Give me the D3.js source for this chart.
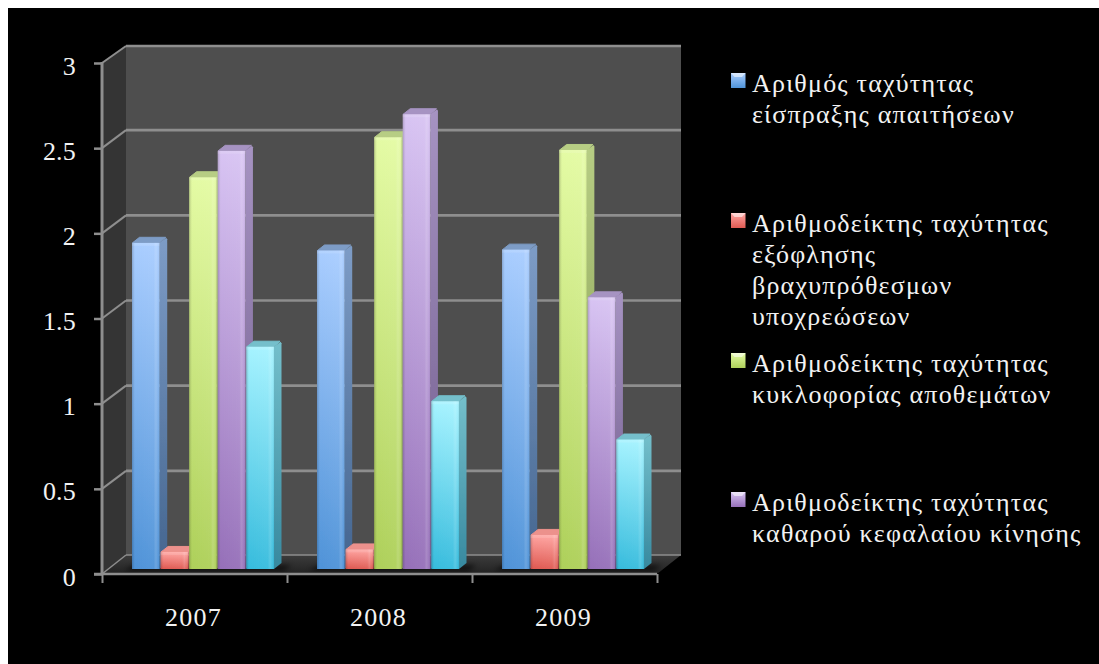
<!DOCTYPE html>
<html>
<head>
<meta charset="utf-8">
<script src="https://cdn.jsdelivr.net/npm/d3@7"></script>
<style>
  html, body { margin: 0; padding: 0; background: #fff; }
  svg { display: block; }
  text { font-family: "Liberation Serif", serif; fill: #f2f2f2; }
</style>
</head>
<body>
<svg id="chart" width="1099" height="664"></svg>
<script>
const years = ["2007", "2008", "2009"];
const receivablesTurnover = [1.915, 1.87, 1.875];
const payablesTurnover = [0.1, 0.115, 0.2];
const inventoryTurnover = [2.3, 2.535, 2.46];
const workingCapitalTurnover = [2.455, 2.67, 1.595];
const fifthRatio = [1.305, 0.985, 0.76];
const seriesValues = [receivablesTurnover, payablesTurnover, inventoryTurnover, workingCapitalTurnover, fifthRatio];

const yTicks = [0, 0.5, 1, 1.5, 2, 2.5, 3];
const legendEntries = [
  ["Αριθμός ταχύτητας", "είσπραξης απαιτήσεων"],
  ["Αριθμοδείκτης ταχύτητας", "εξόφλησης", "βραχυπρόθεσμων", "υποχρεώσεων"],
  ["Αριθμοδείκτης ταχύτητας", "κυκλοφορίας αποθεμάτων"],
  ["Αριθμοδείκτης ταχύτητας", "καθαρού κεφαλαίου κίνησης"]
];
const legendTops = [73, 213, 353, 492];

const palettes = [
  { top: "#a9cdff", bottom: "#4f93d8", side: "#44658f", cap: "#7d9cc6" },
  { top: "#ffa5a2", bottom: "#df5a52", side: "#9c4642", cap: "#ec918c" },
  { top: "#e4fba4", bottom: "#aed05a", side: "#7f9649", cap: "#b7cd84" },
  { top: "#d8c4f3", bottom: "#9670b9", side: "#6f5a8b", cap: "#a693c2" },
  { top: "#a6f3ff", bottom: "#37bcdd", side: "#37899f", cap: "#74bfcb" }
];

const svg = d3.select("#chart");
const defs = svg.append("defs");

// Plot geometry: front plane of the axes, plus the depth offset of the back wall.
const frontLeft = 102, frontRight = 657, frontBottom = 574, frontTop = 63;
const wallDx = 24, wallDy = -18;
const barDx = 7.5, barDy = -6, barBaseLift = 5;

const y = d3.scaleLinear().domain([0, 3]).range([frontBottom, frontTop]);
const x0 = d3.scaleBand().domain(years).range([frontLeft, frontRight]);
const x1 = d3.scaleBand().domain(d3.range(seriesValues.length)).range([30, 172]).paddingInner(0.03);

palettes.forEach((p, i) => {
  const g = defs.append("linearGradient").attr("id", "front" + i).attr("x1", 0).attr("y1", 0).attr("x2", 0).attr("y2", 1);
  g.append("stop").attr("offset", "0").attr("stop-color", p.top);
  g.append("stop").attr("offset", "1").attr("stop-color", p.bottom);
  const s = defs.append("linearGradient").attr("id", "side" + i).attr("x1", 0).attr("y1", 0).attr("x2", 0).attr("y2", 1);
  s.append("stop").attr("offset", "0").attr("stop-color", p.cap);
  s.append("stop").attr("offset", "1").attr("stop-color", p.side);
});
// Horizontal sheen across a bar face: dark rim on the left, bright strip on the right.
const sheen = defs.append("linearGradient").attr("id", "sheen");
[[0, "#000", 0.18], [0.08, "#000", 0.03], [0.14, "#fff", 0], [0.78, "#fff", 0.04], [0.86, "#fff", 0.16], [0.94, "#fff", 0.06], [1, "#000", 0.06]]
  .forEach(([o, c, a]) => sheen.append("stop").attr("offset", o).attr("stop-color", c).attr("stop-opacity", a));
defs.append("filter").attr("id", "soft").append("feGaussianBlur").attr("stdDeviation", 0.6);
defs.append("filter").attr("id", "shadow").attr("x", "-20%").attr("y", "-200%").attr("width", "140%").attr("height", "500%")
  .append("feGaussianBlur").attr("stdDeviation", 2.5);
const floorShade = defs.append("linearGradient").attr("id", "floorShade").attr("x1", 0).attr("y1", 0).attr("x2", 0).attr("y2", 1);
floorShade.append("stop").attr("offset", 0).attr("stop-color", "#3c3c3c");
floorShade.append("stop").attr("offset", 1).attr("stop-color", "#222");

// Page: white margin around a black slide.
svg.append("rect").attr("width", 1099).attr("height", 664).attr("fill", "#fff");
svg.append("rect").attr("x", 8).attr("y", 8).attr("width", 1091).attr("height", 656).attr("fill", "#000");

const poly = pts => pts.map(p => p.join(",")).join(" ");
const backBottom = frontBottom + wallDy - 1, backTop = frontTop + wallDy + 1;

// Back wall, left wall and floor.
svg.append("polygon").attr("fill", "#4e4e4e")
  .attr("points", poly([[frontLeft + wallDx, backTop], [frontRight + wallDx, backTop], [frontRight + wallDx, backBottom], [frontLeft + wallDx, backBottom]]));
svg.append("polygon").attr("fill", "#343434")
  .attr("points", poly([[frontLeft, frontTop], [frontLeft + wallDx, backTop], [frontLeft + wallDx, backBottom], [frontLeft, frontBottom]]));
svg.append("polygon").attr("fill", "url(#floorShade)")
  .attr("points", poly([[frontLeft, frontBottom], [frontLeft + wallDx, backBottom], [frontRight + wallDx, backBottom], [frontRight, frontBottom]]));

// Gridlines run along the back wall and fold down the left wall.
const grid = svg.append("g").attr("fill", "none").attr("stroke", "#8e8e8e");
yTicks.forEach(t => {
  const yb = y(t) + wallDy + (t === 0 ? -1 : t === 3 ? 1 : 0);
  grid.append("line").attr("x1", frontLeft + wallDx).attr("x2", frontRight + wallDx).attr("y1", yb).attr("y2", yb)
    .attr("stroke-width", t === 0 ? 1.5 : 2.6);
  grid.append("line").attr("x1", frontLeft).attr("y1", y(t)).attr("x2", frontLeft + wallDx).attr("y2", yb)
    .attr("stroke-width", t === 0 ? 1.5 : 2);
});

// Bars, one group per year.
const barTop = v => y(v) - barBaseLift;
const barBase = y(0) - barBaseLift;
const groups = svg.selectAll("g.year").data(years).join("g").attr("class", "year")
  .attr("transform", d => `translate(${x0(d)},0)`);

groups.append("polygon").attr("fill", "#000").attr("opacity", 0.6).attr("filter", "url(#shadow)")
  .attr("points", () => {
    const l = x1(0), r = x1(seriesValues.length - 1) + x1.bandwidth() + barDx;
    return poly([[l - 8, barBase + 2], [l + 2, barBase - 4], [r + 10, barBase - 4], [r + 2, barBase + 2]]);
  });

groups.each(function (year, yi) {
  const group = d3.select(this).append("g").attr("filter", "url(#soft)");
  seriesValues.forEach((values, si) => {
    const v = values[yi], l = x1(si), w = x1.bandwidth(), r = l + w, t = barTop(v);
    group.append("polygon").attr("fill", `url(#side${si})`)
      .attr("points", poly([[r, t], [r + barDx - 1, t + barDy + 1], [r + barDx, t + barDy + 2.5], [r + barDx, barBase + barDy], [r, barBase]]));
    group.append("polygon").attr("fill", palettes[si].cap)
      .attr("stroke", palettes[si].cap).attr("stroke-width", 1).attr("stroke-linejoin", "round")
      .attr("points", poly([[l + 0.5, t], [l + barDx, t + barDy + 0.5], [r + barDx - 1.5, t + barDy + 0.5], [r, t]]));
    group.append("rect").attr("x", l).attr("y", t).attr("width", w).attr("height", barBase - t).attr("fill", `url(#front${si})`);
    group.append("rect").attr("x", l).attr("y", t).attr("width", w).attr("height", barBase - t).attr("fill", "url(#sheen)");
    group.append("rect").attr("x", l).attr("y", t).attr("width", w).attr("height", Math.min(3, barBase - t)).attr("fill", "#fff").attr("opacity", 0.12);
  });
});

// Axes.
const yAxis = d3.axisLeft(y).tickValues(yTicks).tickSize(8).tickFormat(d3.format("~g"));
const gy = svg.append("g").attr("transform", `translate(${frontLeft},0)`).call(yAxis);
gy.select(".domain").attr("d", `M0,${frontTop - 1}V${frontBottom + 1}`).attr("stroke", "#8e8e8e").attr("stroke-width", 3);
gy.selectAll(".tick line").attr("stroke", "#8e8e8e").attr("stroke-width", 2.5);
gy.selectAll(".tick text").attr("x", -26).attr("dy", 0).attr("y", 11).style("font-size", "26px").style("letter-spacing", "0.2px").attr("fill", null);

const xEdges = d3.axisBottom(d3.scaleLinear().domain([0, years.length]).range([frontLeft, frontRight]))
  .tickValues(d3.range(years.length + 1)).tickSize(9).tickFormat("");
const gx = svg.append("g").attr("transform", `translate(0,${frontBottom})`).call(xEdges);
gx.select(".domain").attr("d", `M${frontLeft - 8},0H${frontRight}`).attr("stroke", "#8e8e8e").attr("stroke-width", 2.5);
gx.selectAll(".tick line").attr("stroke", "#8e8e8e").attr("stroke-width", 2);

svg.selectAll("text.year").data(years).join("text").attr("class", "year")
  .attr("x", d => x0(d) + x0.bandwidth() / 2 - 1).attr("y", 626)
  .attr("text-anchor", "middle").style("font-size", "26px").style("letter-spacing", "1.2px").text(d => d);

// Legend: four entries with small bevelled swatches.
const legend = svg.selectAll("g.legend").data(legendEntries).join("g").attr("class", "legend")
  .attr("transform", (d, i) => `translate(731,${legendTops[i]})`);
legend.append("rect").attr("width", 14.5).attr("height", 15).attr("fill", (d, i) => `url(#front${i})`);
legend.append("polygon").attr("points", poly([[0, 0], [14.5, 0], [11, 4], [3.5, 4]])).attr("fill", "#fff").attr("opacity", 0.55);
legend.selectAll("text").data(d => d).join("text")
  .attr("x", 21).attr("y", (d, i) => 19 + i * 31).style("font-size", "26px").style("letter-spacing", "1.2px").text(d => d);
</script>
</body>
</html>
